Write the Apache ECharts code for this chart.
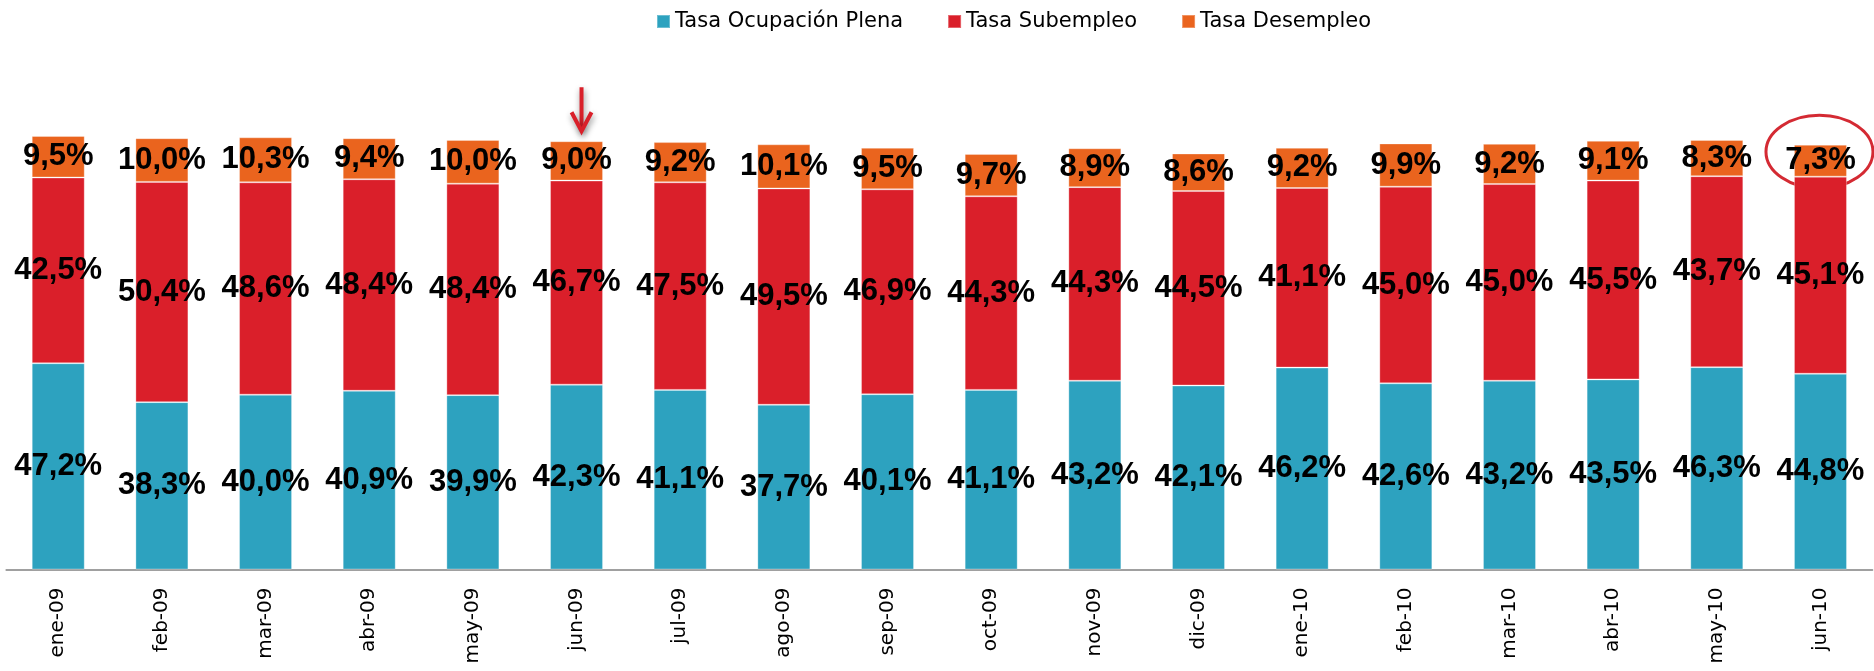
<!DOCTYPE html>
<html>
<head>
<meta charset="utf-8">
<script src="https://cdn.jsdelivr.net/npm/echarts@6/dist/echarts.min.js"></script>
<style>
html,body{margin:0;padding:0;background:#fff;}
#chart{width:1874px;height:671px;}
</style>
</head>
<body>
<div id="chart"></div>
<script>
const categories = ['ene-09','feb-09','mar-09','abr-09','may-09','jun-09','jul-09','ago-09','sep-09','oct-09','nov-09','dic-09','ene-10','feb-10','mar-10','abr-10','may-10','jun-10'];
const ocupacionPlena = [47.2,38.3,40.0,40.9,39.9,42.3,41.1,37.7,40.1,41.1,43.2,42.1,46.2,42.6,43.2,43.5,46.3,44.8];
const subempleo = [42.5,50.4,48.6,48.4,48.4,46.7,47.5,49.5,46.9,44.3,44.3,44.5,41.1,45.0,45.0,45.5,43.7,45.1];
const desempleo = [9.5,10.0,10.3,9.4,10.0,9.0,9.2,10.1,9.5,9.7,8.9,8.6,9.2,9.9,9.2,9.1,8.3,7.3];
const seriesNames = ['Tasa Ocupación Plena','Tasa Subempleo','Tasa Desempleo'];
const arrowCategory = 'jun-09';
const circleCategory = 'jun-10';

const colors = ['#2DA2BF','#DA1F2A','#EA641E'];
const fmt = v => v.toFixed(1).replace('.', ',') + '%';

const chart = echarts.init(document.getElementById('chart'));

function mkSeries(name, data, color) {
  return {
    name: name,
    type: 'bar',
    stack: 'total',
    data: data,
    barWidth: 53,
    itemStyle: {color: color, borderColor: 'rgba(255,255,255,0.3)', borderWidth: 1},
    label: {
      show: true,
      position: 'inside',
      formatter: p => fmt(p.value),
      color: '#000',
      fontFamily: '"Liberation Sans", Arial, sans-serif',
      fontWeight: 'bold',
      fontSize: 31
    },
    emphasis: {disabled: true},
    z: 2
  };
}

chart.setOption({
  animation: false,
  color: colors,
  legend: {
    top: 6,
    left: 651,
    itemWidth: 13,
    itemHeight: 13,
    itemGap: 44,
    icon: 'rect',
    textStyle: {fontFamily: '"DejaVu Sans", sans-serif', fontSize: 21, color: '#000'},
    data: seriesNames
  },
  grid: {left: 6.4, right: 1.7, top: 132.5, height: 437, containLabel: false},
  xAxis: {
    type: 'category',
    data: categories,
    axisLine: {lineStyle: {color: '#a0a0a0', width: 2}},
    axisTick: {show: false},
    axisLabel: {
      rotate: 90,
      margin: 18,
      color: '#000',
      fontFamily: '"DejaVu Sans", sans-serif',
      fontSize: 20
    }
  },
  yAxis: {type: 'value', min: 0, max: 100, show: false, splitLine: {show: false}},
  series: [
    mkSeries(seriesNames[0], ocupacionPlena, colors[0]),
    mkSeries(seriesNames[1], subempleo, colors[1]),
    mkSeries(seriesNames[2], desempleo, colors[2])
  ]
});

function total(i){ return ocupacionPlena[i] + subempleo[i] + desempleo[i]; }
const ai = categories.indexOf(arrowCategory);
const ci = categories.indexOf(circleCategory);
const aPt = chart.convertToPixel({xAxisIndex:0, yAxisIndex:0}, [arrowCategory, total(ai)]);
const cPt = chart.convertToPixel({xAxisIndex:0, yAxisIndex:0}, [circleCategory, total(ci)]);

const ax = aPt[0] + 5, tipY = aPt[1] - 10;
const arrowStyle = {stroke: '#D9202A', lineWidth: 4, fill: null, lineCap: 'butt', lineJoin: 'miter',
  shadowBlur: 6, shadowColor: 'rgba(0,0,0,0.45)', shadowOffsetX: 1, shadowOffsetY: 3};

chart.setOption({
  graphic: [
    {type: 'polyline', z: 10, shape: {points: [[ax, tipY - 44], [ax, tipY - 2]]}, style: arrowStyle},
    {type: 'polyline', z: 10, shape: {points: [[ax - 10, tipY - 19], [ax, tipY], [ax + 10, tipY - 19]]}, style: arrowStyle},
    {type: 'ellipse', z: -1, zlevel: 0,
      shape: {cx: cPt[0] - 1, cy: cPt[1] + 7, rx: 53.5, ry: 36.5},
      style: {stroke: '#D42A33', lineWidth: 3, fill: null}}
  ]
});
</script>
</body>
</html>
